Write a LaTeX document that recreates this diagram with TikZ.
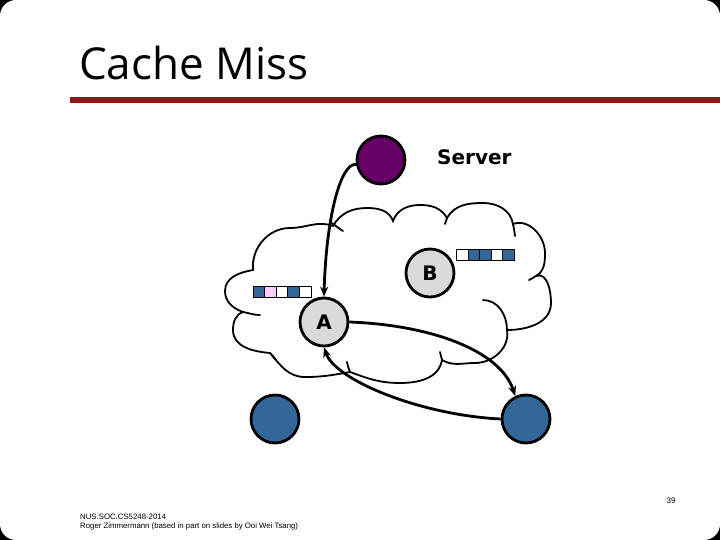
\documentclass[tikz,border=0pt]{standalone}
\usepackage{fontspec}
\setmainfont{DejaVu Sans}
\newfontfamily\titlefont{Open Sans}
\newfontfamily\footfont{Liberation Sans}
\usetikzlibrary{arrows.meta}
\definecolor{srvpurple}{HTML}{660066}
\definecolor{hostblue}{HTML}{336699}
\definecolor{nodegray}{HTML}{DADADA}
\definecolor{cellpink}{HTML}{FFCCFF}
\definecolor{rulered}{HTML}{8B1A1A}
\begin{document}
\begin{tikzpicture}[x=1pt,y=1pt,
  cloudline/.style={line width=1.8pt, line cap=round},
  conn/.style={line width=2.8pt, -{Stealth[length=10pt,width=8pt]}},
  ball/.style={circle, draw=black, line width=2.8pt, minimum size=48pt, inner sep=0pt},
  graynode/.style={ball, fill=nodegray, font=\fontsize{20}{20}\selectfont\bfseries},
  cell/.style={draw=black, line width=1pt, minimum width=11.6pt, minimum height=11pt, inner sep=0pt}]
\useasboundingbox (0,0) rectangle (720,-540);
\fill[black] (0,0) rectangle (720,-540);
\fill[white, rounded corners=16pt] (0,0) rectangle (720,-540);
% title
\node[anchor=base west, inner sep=0pt, font=\titlefont\fontsize{44}{44}\selectfont] (title) at (79,-80) {Cache Miss};
\fill[rulered] (70,-97) rectangle (720,-103);
% cloud
\draw[cloudline] (253,-270) to[out=95,in=180] (290,-228) to[out=0,in=160] (333,-226)
 to[out=60,in=180] (367,-208) to[out=0,in=110] (393,-221)
 to[out=70,in=180] (420,-205) to[out=0,in=120] (447,-218)
 to[out=60,in=180] (483,-203) to[out=0,in=100] (513,-224)
 to[out=20,in=90] (545,-253) to[out=-90,in=30] (536,-276)
 to[out=20,in=90] (551,-303) to[out=-90,in=0] (507,-330)
 to[out=-80,in=0] (475,-363) to[out=180,in=-30] (442,-360)
 to[out=-100,in=0] (400,-383) to[out=180,in=-20] (350,-372)
 to[out=-170,in=0] (305,-377) to[out=180,in=-50] (270,-353)
 to[out=175,in=-90] (233,-330) to[out=90,in=200] (243,-312)
 to[out=160,in=-90] (225,-291) to[out=90,in=190] (253,-270) -- cycle;
\draw[cloudline] (330,-222) to[out=-30,in=150] (343,-231);
\draw[cloudline] (447,-218) to[out=-100,in=80] (445,-224);
\draw[cloudline] (513,-224) to[out=-80,in=95] (515,-236);
\draw[cloudline] (536,-276) to[out=210,in=20] (529,-280);
\draw[cloudline] (483,-300) to[out=0,in=90] (507,-330);
\draw[cloudline] (440,-352) to[out=-80,in=100] (442,-360);
\draw[cloudline] (347,-362) to[out=-80,in=110] (350,-372);
\draw[cloudline] (270,-353) to[out=-40,in=130] (276,-360);
\draw[cloudline] (243,-312) to[out=-10,in=180] (260,-315);
\draw[cloudline] (253,-262) to[out=-80,in=95] (253,-270);
% nodes
\node[ball, fill=srvpurple] (S) at (381,-160) {};
\node[anchor=west, inner sep=0pt, font=\fontsize{20}{20}\selectfont\bfseries] (srvlabel) at (437,-157) {Server};
\node[graynode] (B) at (430,-273) {B};
\node[graynode] (A) at (324,-322) {A};
\node[ball, fill=hostblue] (H1) at (275,-419) {};
\node[ball, fill=hostblue] (H2) at (526,-419) {};
% caches
\foreach \c [count=\i] in {hostblue,cellpink,white,hostblue,white}
  \node[cell, fill=\c] (L\i) at ({253+11.6*(\i-0.5)},-291.5) {};
\foreach \c [count=\i] in {white,hostblue,hostblue,white,hostblue}
  \node[cell, fill=\c] (R\i) at ({457+11.4*(\i-0.5)},-254.5) {};
% connectors
\draw[conn] (S.190) .. controls (340,-163) and (326,-220) .. (A.north);
\draw[conn] (A.east) .. controls (430,-325) and (500,-350) .. (H2.115);
\draw[conn] (H2.west) .. controls (420,-415) and (335,-380) .. (A.south);
% footer
\node[anchor=west, inner sep=0pt, font=\footfont\fontsize{7.8}{8}\selectfont] (f1) at (80,-517) {NUS.SOC.CS5248-2014};
\node[anchor=west, inner sep=0pt, font=\footfont\fontsize{7.8}{8}\selectfont] (f2) at (80,-526) {Roger Zimmermann (based in part on slides by Ooi Wei Tsang)};
\node[inner sep=0pt, font=\footfont\fontsize{8}{8}\selectfont] (pg) at (671,-501) {39};
\end{tikzpicture}
\end{document}
